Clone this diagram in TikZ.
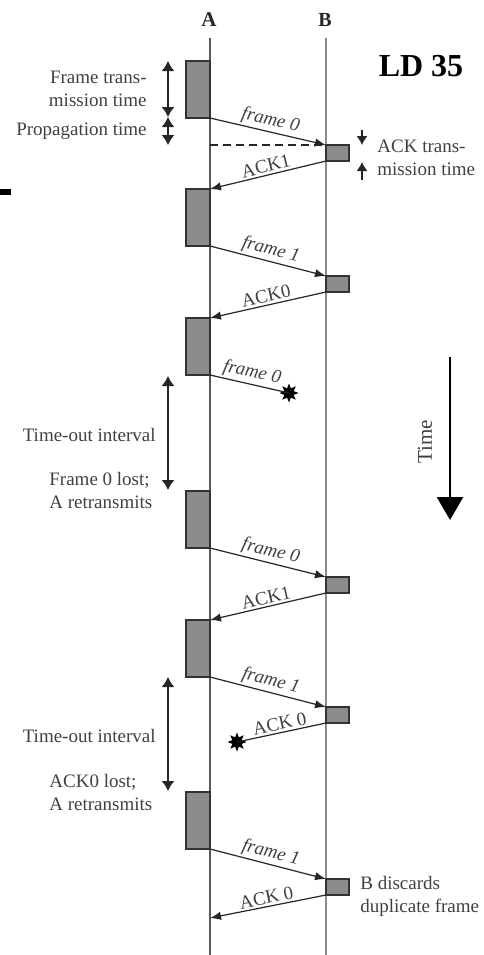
\documentclass[tikz,border=0pt]{standalone}
\usepackage{fontspec}
\setmainfont{Liberation Serif}
\usetikzlibrary{arrows.meta,shapes.geometric}

\tikzset{
  abox/.style={draw=black!80, fill=black!45, line width=0.6pt, inner sep=0pt, outer sep=0pt,
    minimum width=12pt, minimum height=28.5pt, anchor=north east},
  bbox/.style={draw=black!80, fill=black!45, line width=0.6pt, inner sep=0pt, outer sep=0pt,
    minimum width=11.5pt, minimum height=8pt, anchor=north west},
  msg/.style={draw=black!85, line width=0.6pt, -{Latex[length=5.5pt,width=4.2pt]}},
  span/.style={draw=black!85, line width=0.7pt, {Latex[length=5pt,width=6.5pt]}-{Latex[length=5pt,width=6.5pt]}},
  tick/.style={draw=black!85, line width=0.6pt, -{Latex[length=4.5pt,width=5.5pt]}},
  lost/.style={star, star points=8, star point ratio=1.9, fill=black, inner sep=0pt, minimum size=9.5pt},
  txt/.style={text=black!75, font=\fontsize{9.5}{11.5}\selectfont, inner sep=0pt},
  lbl/.style={text=black!75, font=\fontsize{9.5}{11.5}\selectfont, sloped, above, inner sep=1pt},
}

\begin{document}
\begin{tikzpicture}[x=0.5pt, y=-0.5pt]
  \useasboundingbox (0,0) rectangle (483,955);

  % time lines
  \node[font=\bfseries\fontsize{10.5}{12}\selectfont, text=black!85] (la) at (209,20) {A};
  \node[font=\bfseries\fontsize{10}{12}\selectfont, text=black!85] (lb) at (325,20) {B};
  \coordinate (ta) at (210,38);
  \coordinate (ea) at (210,955);
  \coordinate (tb) at (326,38);
  \coordinate (eb) at (326,955);
  \draw[black!65, line width=1pt] (ta) -- (ea);
  \draw[black!45, line width=1.1pt] (tb) -- (eb);

  \node[font=\bfseries\fontsize{16}{18}\selectfont] (ld) at (421,66) {LD 35};
  \fill (0,189) rectangle (11,195);

  % frames sent by A
  \node[abox] (a1) at (210,61) {};
  \node[abox] (a2) at (210,189) {};
  \node[abox] (a3) at (210,318) {};
  \node[abox] (a4) at (210,491) {};
  \node[abox] (a5) at (210,620) {};
  \node[abox] (a6) at (210,792) {};

  % acks sent by B
  \node[bbox] (b1) at (326,145) {};
  \node[bbox] (b2) at (326,276) {};
  \node[bbox] (b3) at (326,577) {};
  \node[bbox] (b4) at (326,707) {};
  \node[bbox] (b5) at (326,879) {};

  \node[lost] (x1) at (289,393) {};
  \node[lost] (x2) at (237,742) {};
  \coordinate (a7) at (210,918);

  \draw[msg] (a1.south east) -- node[lbl, font=\itshape\fontsize{9.5}{11.5}\selectfont] {frame 0} (b1.north west);
  \draw[msg] (b1.south west) -- node[lbl] {ACK1} (a2.north east);
  \draw[msg] (a2.south east) -- node[lbl, font=\itshape\fontsize{9.5}{11.5}\selectfont] {frame 1} (b2.north west);
  \draw[msg] (b2.south west) -- node[lbl] {ACK0} (a3.north east);
  \draw[draw=black!85, line width=0.6pt] (a3.south east) -- node[lbl, font=\itshape\fontsize{9.5}{11.5}\selectfont] {frame 0} (x1.center);
  \draw[msg] (a4.south east) -- node[lbl, font=\itshape\fontsize{9.5}{11.5}\selectfont] {frame 0} (b3.north west);
  \draw[msg] (b3.south west) -- node[lbl] {ACK1} (a5.north east);
  \draw[msg] (a5.south east) -- node[lbl, font=\itshape\fontsize{9.5}{11.5}\selectfont] {frame 1} (b4.north west);
  \draw[draw=black!85, line width=0.6pt] (b4.south west) -- node[lbl] {ACK 0} (x2.center);
  \draw[msg] (a6.south east) -- node[lbl, font=\itshape\fontsize{9.5}{11.5}\selectfont] {frame 1} (b5.north west);
  \draw[msg] (b5.south west) -- node[lbl] {ACK 0} (a7);

  \coordinate (d1) at (210,145);
  \draw[black!85, line width=0.6pt, dashed, dash pattern=on 4pt off 2.5pt] (d1) -- (b1.north west);

  % left side intervals
  \coordinate (s1) at (168,61);
  \coordinate (s2) at (168,117);
  \coordinate (s3) at (168,145);
  \draw[span] (s1) -- (s2);
  \draw[span] (s2) -- (s3);
  \node[txt, align=right, anchor=east] (ft) at (147,89) {Frame trans-\\mission time};
  \node[txt, anchor=east] (pt) at (147,131) {Propagation time};

  \coordinate (t1) at (168,376);
  \coordinate (t2) at (168,490);
  \draw[span] (t1) -- (t2);
  \node[txt, anchor=east] (to1) at (156,435) {Time-out interval};
  \node[txt, align=left, anchor=west] (fl) at (49,490) {Frame 0 lost;\\A retransmits};

  \coordinate (t3) at (168,677);
  \coordinate (t4) at (168,791);
  \draw[span] (t3) -- (t4);
  \node[txt, anchor=east] (to2) at (156,736) {Time-out interval};
  \node[txt, align=left, anchor=west] (al) at (49,792) {ACK0 lost;\\A retransmits};

  % right side
  \coordinate (k1) at (362,130);
  \coordinate (k2) at (362,145);
  \coordinate (k3) at (362,180);
  \coordinate (k4) at (362,162);
  \draw[tick] (k1) -- (k2);
  \draw[tick] (k3) -- (k4);
  \node[txt, align=left, anchor=west] (at) at (377,158) {ACK trans-\\mission time};
  \node[txt, align=left, anchor=west] (bd) at (360,896) {B discards\\duplicate frame};

  \coordinate (tm1) at (450,357);
  \coordinate (tm2) at (450,520);
  \draw[black, line width=1.3pt, -{Triangle[length=11.5pt,width=13pt]}] (tm1) -- (tm2);
  \node[txt, rotate=90, font=\fontsize{10.5}{12}\selectfont] (tm) at (425,442) {Time};
\end{tikzpicture}
\end{document}
